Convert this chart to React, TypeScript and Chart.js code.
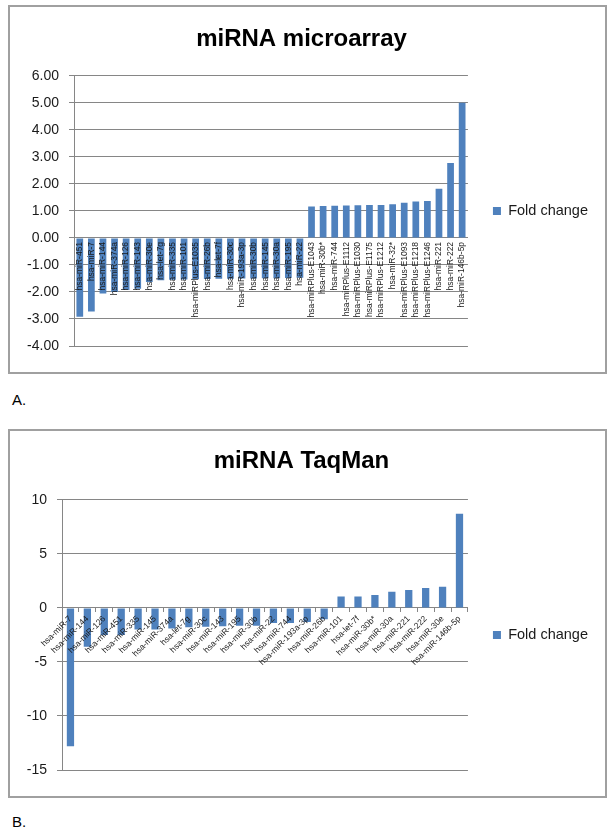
import React, { useEffect, useRef } from 'react';
import { Chart, registerables } from 'chart.js';

Chart.register(...registerables);

// ---------- Data ----------
const microarrayLabels = [
  'hsa-miR-451', 'hsa-miR-7', 'hsa-miR-144', 'hsa-miR-374a', 'hsa-miR-126', 'hsa-miR-143',
  'hsa-miR-30e', 'hsa-let-7g', 'hsa-miR-335', 'hsa-miR-101', 'hsa-miRPlus-E1035', 'hsa-miR-26b',
  'hsa-let-7f', 'hsa-miR-30c', 'hsa-miR-193a-3p', 'hsa-miR-30b', 'hsa-miR-145', 'hsa-miR-30a',
  'hsa-miR-195', 'hsa-miR-22', 'hsa-miRPlus-E1043', 'hsa-miR-30b*', 'hsa-miR-744',
  'hsa-miRPlus-E1112', 'hsa-miRPlus-E1030', 'hsa-miRPlus-E1175', 'hsa-miRPlus-E1212',
  'hsa-miR-32*', 'hsa-miRPlus-E1093', 'hsa-miRPlus-E1218', 'hsa-miRPlus-E1246',
  'hsa-miR-221', 'hsa-miR-222', 'hsa-miR-146b-5p',
];
const microarrayFold = [
  -2.92, -2.72, -2.06, -2.0, -1.93, -1.88, -1.63, -1.57, -1.55, -1.54, -1.53, -1.52,
  -1.51, -1.51, -1.5, -1.5, -1.49, -1.49, -1.48, -1.47,
  1.16, 1.18, 1.19, 1.2, 1.21, 1.22, 1.22, 1.25, 1.3, 1.35, 1.37, 1.82, 2.77, 5.0,
];

const taqmanLabels = [
  'hsa-miR-7', 'hsa-miR-144', 'hsa-miR-126', 'hsa-miR-451', 'hsa-miR-335', 'hsa-miR-145',
  'hsa-miR-374a', 'hsa-let-7g', 'hsa-miR-30c', 'hsa-miR-143', 'hsa-miR-195', 'hsa-miR-30b',
  'hsa-miR-22', 'hsa-miR-744', 'hsa-miR-193a-3p', 'hsa-miR-26b', 'hsa-miR-101', 'hsa-let-7f',
  'hsa-miR-30b*', 'hsa-miR-30a', 'hsa-miR-221', 'hsa-miR-222', 'hsa-miR-30e', 'hsa-miR-146b-5p',
];
const taqmanFold = [
  -12.8, -3.6, -2.5, -2.5, -2.0, -2.0, -1.9, -1.8, -1.75, -1.7, -1.65, -1.65,
  -1.4, -1.4, -1.3, -1.05, 1.05, 1.05, 1.2, 1.5, 1.65, 1.85, 1.95, 8.7,
];

const seriesName = 'Fold change';

// ---------- Styles ----------
const FONT = "'Liberation Sans', Arial, sans-serif";
const BAR = '#4F81BD';
const GRID = '#868686';
const TEXT = '#1a1a1a';
const W = 602;
const H = 369;

type Props = {
  labels: string[];
  values: number[];
  title: string;
  yMin: number;
  yMax: number;
  step: number;
  decimals: number;
  rotation: number;
  tickSize: number;
  barPct: number;
  axisWidth: number;
  titleTop: number;
  titleBottom: number;
  tickMarks: boolean;
  labelPad: number;
  top: number;
};

function BarChart(p: Props) {
  const ref = useRef<HTMLCanvasElement | null>(null);
  useEffect(() => {
    if (!ref.current) return;
    const chart = new Chart(ref.current, {
      type: 'bar',
      data: {
        labels: p.labels,
        datasets: [
          {
            label: seriesName,
            data: p.values,
            backgroundColor: BAR,
            borderWidth: 0,
            barPercentage: p.barPct,
            categoryPercentage: 1,
          },
        ],
      },
      options: {
        responsive: false,
        animation: false,
        devicePixelRatio: 1,
        layout: { padding: { left: 0, right: 9, top: 0, bottom: 28 } },
        plugins: {
          title: {
            display: true,
            text: p.title,
            color: '#000',
            font: { family: FONT, size: 24, weight: 'bold' },
            padding: { top: p.titleTop, bottom: p.titleBottom },
          },
          legend: {
            position: 'right',
            fullSize: false,
            labels: {
              boxWidth: 8,
              boxHeight: 8,
              padding: 25,
              color: TEXT,
              font: { family: FONT, size: 14.5 },
            },
          },
          tooltip: { enabled: false },
        },
        scales: {
          x: {
            type: 'category',
            position: { y: 0 } as any,
            offset: true,
            ticks: {
              autoSkip: false,
              minRotation: p.rotation,
              maxRotation: p.rotation,
              color: TEXT,
              font: { family: FONT, size: p.tickSize },
              padding: p.labelPad,
              z: 1,
            },
            grid: {
              display: p.tickMarks,
              drawOnChartArea: false,
              drawTicks: p.tickMarks,
              tickLength: 4,
              color: GRID,
              offset: true,
            },
            border: { display: true, color: GRID },
          },
          y: {
            min: p.yMin,
            max: p.yMax,
            ticks: {
              stepSize: p.step,
              color: TEXT,
              font: { family: FONT, size: 14 },
              padding: 10,
              callback: (v: any) => Number(v).toFixed(p.decimals),
            },
            grid: { color: GRID, tickLength: 5, drawTicks: true },
            border: { color: GRID },
            afterFit: (s: any) => {
              s.width = p.axisWidth;
            },
          },
        },
      },
    });
    return () => chart.destroy();
  }, []);
  return (
    <canvas
      ref={ref}
      width={W}
      height={H}
      style={{ position: 'absolute', left: 5, top: p.top, width: W, height: H }}
    />
  );
}

export default function App() {
  const boxStyle = (top: number): React.CSSProperties => ({
    position: 'absolute',
    left: 8,
    top,
    width: 599,
    height: H,
    boxSizing: 'border-box',
    border: '2px solid #a0a0a0',
    background: '#fff',
  });
  const capStyle = (top: number): React.CSSProperties => ({
    position: 'absolute',
    left: 12,
    top,
    fontFamily: FONT,
    fontSize: 15,
    color: '#000',
    lineHeight: '18px',
  });
  return (
    <div style={{ position: 'absolute', left: 0, top: 0, width: 612, height: 832, background: '#fff' }}>
      <div style={boxStyle(5)} />
      <div style={boxStyle(429)} />
      <BarChart
        labels={microarrayLabels}
        values={microarrayFold}
        title="miRNA microarray"
        yMin={-4}
        yMax={6}
        step={1}
        decimals={2}
        rotation={90}
        tickSize={8.5}
        barPct={0.58}
        axisWidth={69}
        titleTop={20}
        titleBottom={22}
        tickMarks={false}
        labelPad={4}
        top={5}
      />
      <div style={capStyle(391)}>A.</div>
      <BarChart
        labels={taqmanLabels}
        values={taqmanFold}
        title="miRNA TaqMan"
        yMin={-15}
        yMax={10}
        step={5}
        decimals={0}
        rotation={45}
        tickSize={8.5}
        barPct={0.43}
        axisWidth={57}
        titleTop={18}
        titleBottom={24}
        tickMarks={true}
        labelPad={2}
        top={429}
      />
      <div style={capStyle(813)}>B.</div>
    </div>
  );
}
